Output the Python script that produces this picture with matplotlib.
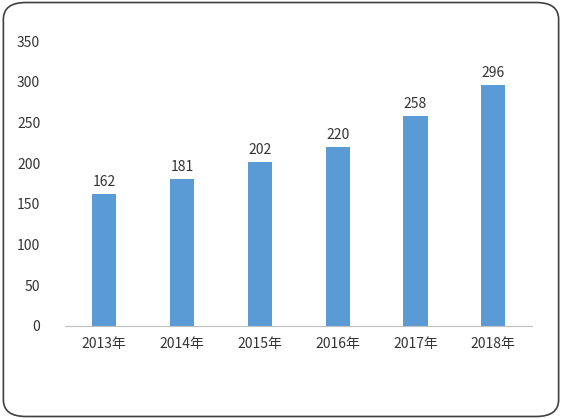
import matplotlib
matplotlib.use("Agg")
import matplotlib.pyplot as plt
from matplotlib.patches import FancyBboxPatch

plt.rcParams['font.family'] = ['Noto Sans CJK SC', 'DejaVu Sans']

categories = ["2013年", "2014年", "2015年", "2016年", "2017年", "2018年"]
values = [162, 181, 202, 220, 258, 296]
yticks = [0, 50, 100, 150, 200, 250, 300, 350]

fig = plt.figure(figsize=(5.62, 4.19), dpi=100)
border = FancyBboxPatch((0.006, 0.006), 0.988, 0.988, boxstyle="round,pad=0,rounding_size=0.04",
                        transform=fig.transFigure, facecolor="white", edgecolor="#404040",
                        linewidth=1.2, zorder=-10)
fig.patches.append(border)

ax = fig.add_axes([0.116, 0.222, 0.831, 0.680])
ax.set_zorder(5)
ax.set_facecolor("none")
x = list(range(len(categories)))
bars = ax.bar(x, values, width=0.31, color="#5B9BD5")
for xi, v in zip(x, values):
    ax.text(xi, v + 6, str(v), ha="center", va="bottom", fontsize=10, color="#333333")

ax.set_xlim(-0.5, len(categories) - 0.5)
ax.set_ylim(0, 350)
ax.set_yticks(yticks)
ax.set_xticks(x)
ax.set_xticklabels(categories)
ax.tick_params(axis="both", length=0, labelsize=10, colors="#333333")
ax.tick_params(axis="y", pad=18)
ax.tick_params(axis="x", pad=8)
for s in ["top", "right", "left"]:
    ax.spines[s].set_visible(False)
ax.spines["bottom"].set_color("#BFBFBF")

fig.savefig("out.png", dpi=100)
